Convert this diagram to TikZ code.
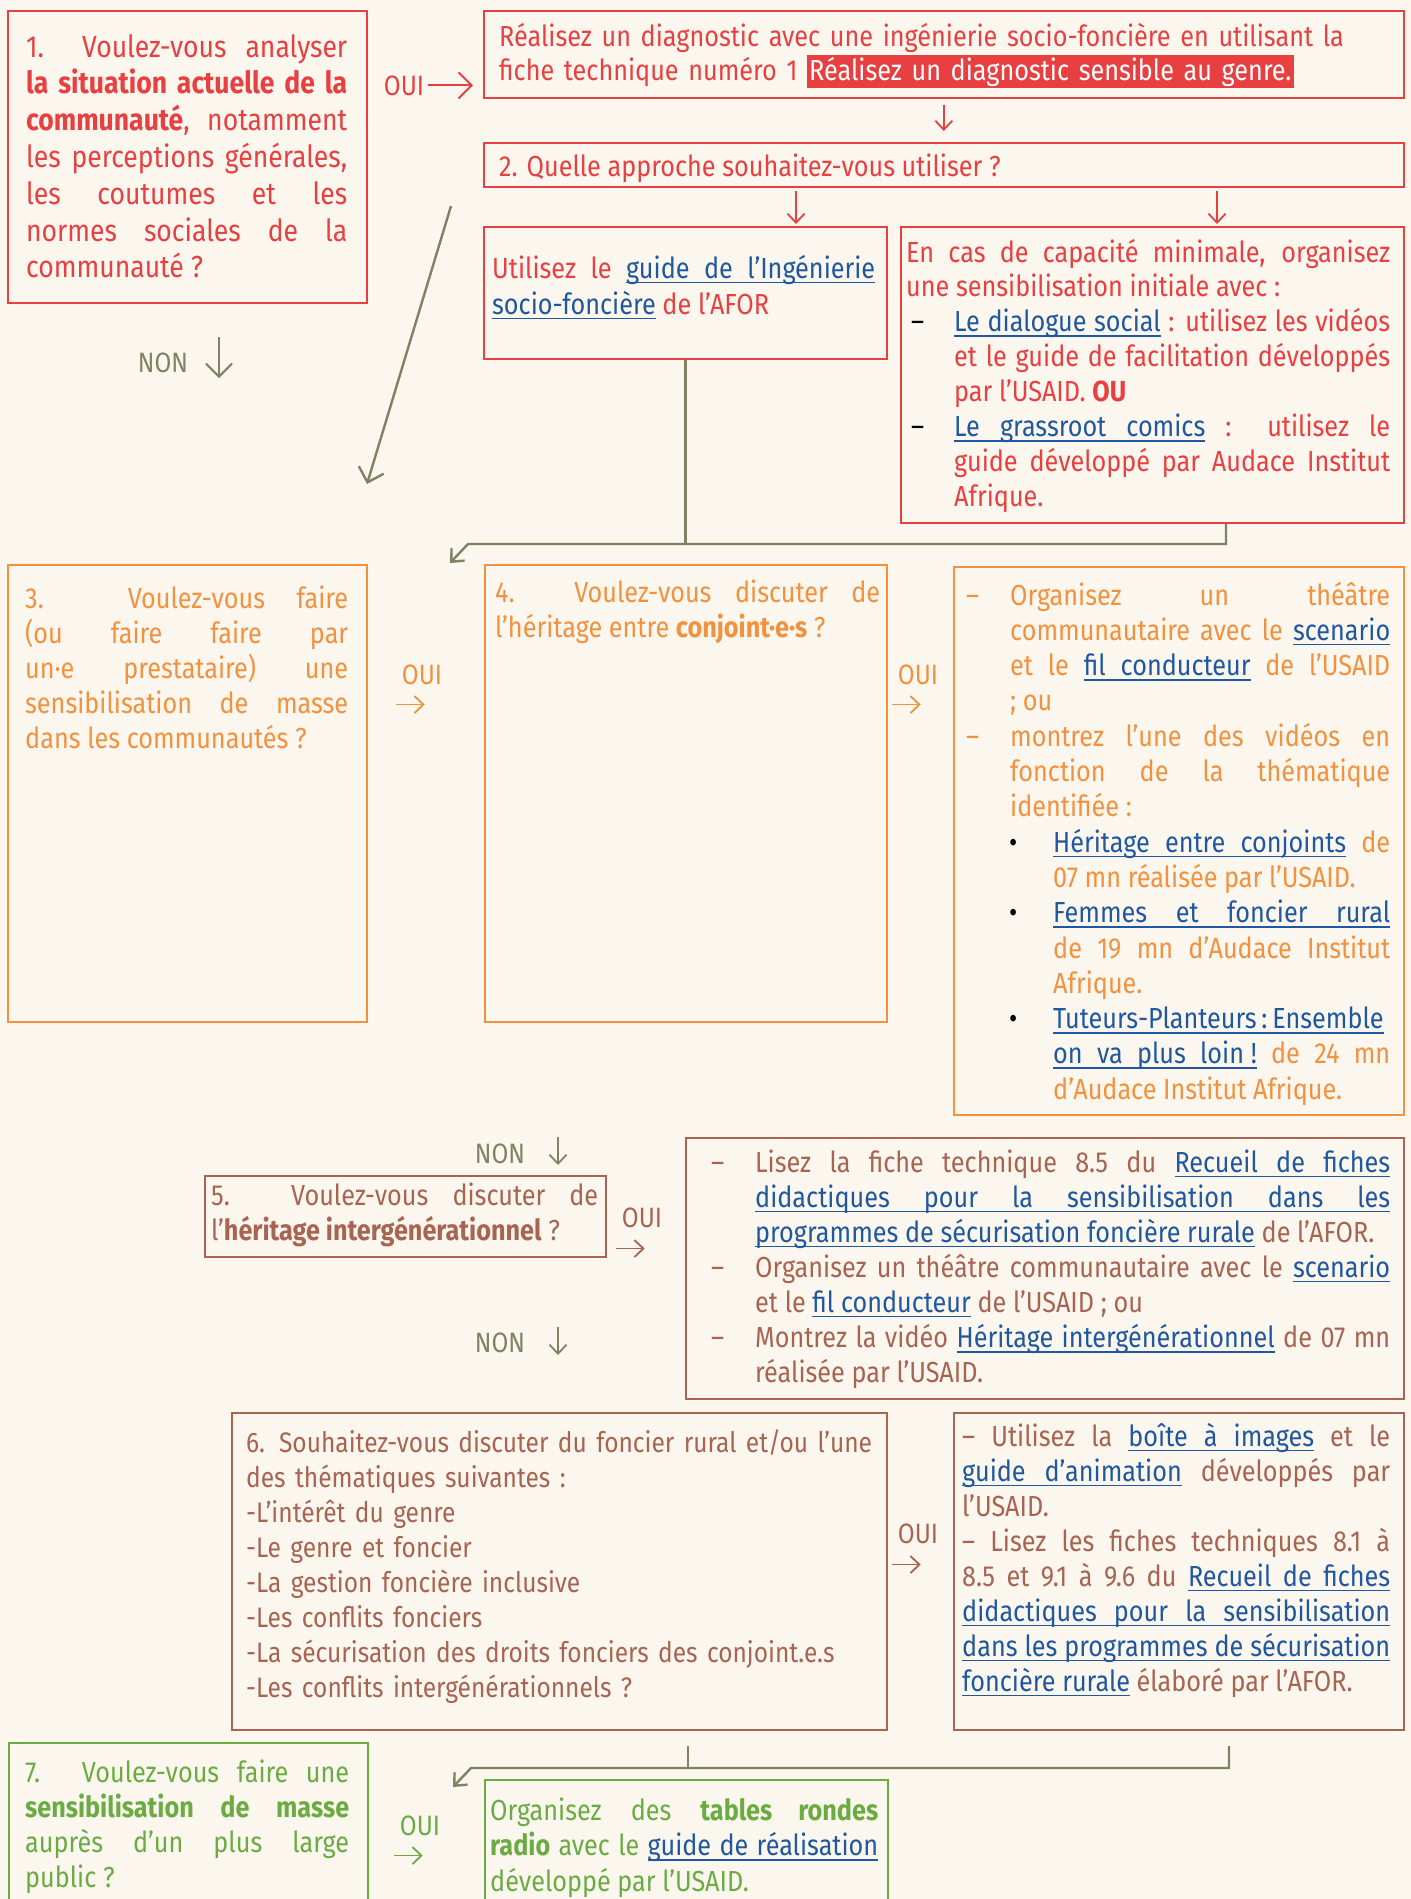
\documentclass[tikz,border=0pt]{standalone}
\usepackage{fontspec}
\setmainfont{Fira Sans}[FakeStretch=0.87]
\usetikzlibrary{arrows.meta}
\definecolor{cbg}{RGB}{251,246,238}
\definecolor{cred}{RGB}{232,64,64}
\definecolor{colive}{RGB}{128,130,100}
\definecolor{corange}{RGB}{242,145,62}
\definecolor{cbrown}{RGB}{168,100,80}
\definecolor{cgreen}{RGB}{106,172,66}
\definecolor{clink}{RGB}{31,88,160}
\newcommand\fs[2]{\fontsize{#1}{#2}\selectfont}
\newcommand\ulw[1]{\setbox0\hbox{#1}\rlap{\rule[-5pt]{\wd0}{1.5pt}}\box0}
\newcommand\lnksp{\leaders\hrule height -3.5pt depth 5pt\hskip\fontdimen2\font plus\fontdimen3\font minus\fontdimen4\font}
\def\lnkend{\lnkend}
\def\lnkw#1 #2\lnkend{\ulw{#1}\ifx\relax#2\relax\else\lnksp\lnkw#2\lnkend\fi}
\newcommand\lnk[1]{{\color{clink}\lnkw#1 \lnkend}}
\newcommand\itm[3]{\noindent\hangindent=#1\hangafter=0\llap{\makebox[#2][l]{#3}}\ignorespaces}
\newcommand\hl[1]{{\setlength\fboxsep{2pt}\colorbox{cred}{\color{white}#1}}}
\begin{document}
\begin{tikzpicture}[x=1pt, y=-1pt,
  box/.style={draw, line width=1.6pt, anchor=north west, inner sep=0pt},
  txt/.style={anchor=base west, inner sep=0pt, align=justify,
    execute at begin node={\tolerance=10000\hbadness=10000\hyphenpenalty=10000\exhyphenpenalty=10000\parindent=0pt}},
  lbl/.style={anchor=base, inner sep=0pt, font=\fs{28}{30}},
  arrw/.style={line width=2pt, -{Straight Barb[length=13pt, width=26pt]}},
  smallarrw/.style={line width=1.8pt, -{Straight Barb[length=9pt, width=17pt]}},
  joinline/.style={line width=2.4pt, colive}]
\path[use as bounding box, fill=cbg] (0,0) rectangle (1411,1899);

\node[box, draw=cred, minimum width=359, minimum height=292] (b1) at (7,10) {};
\node[box, draw=cred, minimum width=920, minimum height=87] (bdiag) at (483,10) {};
\node[box, draw=cred, minimum width=920, minimum height=44] (b2) at (483,142) {};
\node[box, draw=cred, minimum width=403, minimum height=132] (butil) at (483,226) {};
\node[box, draw=cred, minimum width=503, minimum height=296] (bcas) at (900,226) {};
\node[box, draw=corange, minimum width=359, minimum height=457] (b3) at (7,564) {};
\node[box, draw=corange, minimum width=402, minimum height=457] (b4) at (484,564) {};
\node[box, draw=corange, minimum width=450, minimum height=548] (bth) at (953,566) {};
\node[box, draw=cbrown, minimum width=401, minimum height=81] (b5) at (204,1175) {};
\node[box, draw=cbrown, minimum width=718, minimum height=261] (bre) at (685,1137) {};
\node[box, draw=cbrown, minimum width=655, minimum height=317] (b6) at (231,1412) {};
\node[box, draw=cbrown, minimum width=450, minimum height=317] (bbo) at (953,1412) {};
\node[box, draw=cgreen, minimum width=359, minimum height=180] (b7) at (8,1742) {};
\node[box, draw=cgreen, minimum width=403, minimum height=140] (bra) at (484,1779) {};

\node[txt, text=cred, text width=321, font=\fs{30.5}{36.8}] (t1) at (26,57) {1.~~Voulez-vous analyser\linebreak
  \textbf{la situation actuelle de la}\linebreak
  \textbf{communauté}, notamment\linebreak
  les perceptions générales,\linebreak
  les coutumes et les\linebreak
  normes sociales de la\linebreak
  communauté~?};
\node[txt, text=cred, text width=900, align=left, font=\fs{29}{34}] (tdiag) at (499,46) {Réalisez un diagnostic avec une ingénierie socio-foncière en utilisant la\\
  fiche technique numéro 1 \hl{Réalisez un diagnostic sensible au genre.}};
\node[txt, text=cred, align=left, font=\fs{29}{34}] (t2) at (499,176) {2. Quelle approche souhaitez-vous utiliser~?};
\node[txt, text=cred, text width=383, font=\fs{29}{36}] (tutil) at (492,278) {Utilisez le \lnk{guide de l’Ingénierie}\linebreak
  \lnk{socio-foncière} de l’AFOR};
\node[txt, text=cred, text width=484, font=\fs{29}{34.9}] (tcas) at (906,262) {En cas de capacité minimale, organisez\linebreak
  une sensibilisation initiale avec~:\par
  \itm{48pt}{43pt}{\color{black}–}\lnk{Le dialogue social}~: utilisez les vidéos\linebreak
  et le guide de facilitation développés\linebreak
  par l’USAID. \textbf{OU}\par
  \itm{48pt}{43pt}{\color{black}–}\lnk{Le grassroot comics}~: utilisez le\linebreak
  guide développé par Audace Institut\linebreak
  Afrique.\par};

\node[txt, text=corange, text width=323, font=\fs{29}{35}] (t3) at (25,608) {3. Voulez-vous faire\linebreak
  (ou faire faire par\linebreak
  un·e prestataire) une\linebreak
  sensibilisation de masse\linebreak
  dans les communautés~?};
\node[txt, text=corange, text width=385, font=\fs{29}{35}] (t4) at (495,602) {4. Voulez-vous discuter de\linebreak
  l’héritage entre \textbf{conjoint·e·s}~?};
\node[txt, text=corange, text width=424, font=\fs{29}{35.3}] (tth) at (966,605) {\itm{44pt}{44pt}{–}Organisez un théâtre\linebreak
  communautaire avec le \lnk{scenario}\linebreak
  et le \lnk{fil conducteur} de l’USAID\linebreak
  ; ou\par
  \itm{44pt}{44pt}{–}montrez l’une des vidéos en\linebreak
  fonction de la thématique\linebreak
  identifiée :\par
  \itm{87pt}{44pt}{\color{black}•}\lnk{Héritage entre conjoints} de\linebreak
  07 mn réalisée par l’USAID.\par
  \itm{87pt}{44pt}{\color{black}•}\lnk{Femmes et foncier rural}\linebreak
  de 19 mn d’Audace Institut\linebreak
  Afrique.\par
  \itm{87pt}{44pt}{\color{black}•}\lnk{Tuteurs-Planteurs\,:\,Ensemble}\linebreak
  \lnk{on va plus loin~!} de 24 mn\linebreak
  d’Audace Institut Afrique.\par};

\node[txt, text=cbrown, text width=387, font=\fs{29}{35}] (t5) at (211,1205) {5. Voulez-vous discuter de\linebreak
  l’\textbf{héritage intergénérationnel}~?};
\node[txt, text=cbrown, text width=679, font=\fs{29}{35.1}] (tre) at (711,1172) {\itm{44pt}{44pt}{–}Lisez la fiche technique 8.5 du \lnk{Recueil de fiches}\linebreak
  \lnk{didactiques pour la sensibilisation dans les}\linebreak
  \lnk{programmes de sécurisation foncière rurale} de l’AFOR.\par
  \itm{44pt}{44pt}{–}Organisez un théâtre communautaire avec le \lnk{scenario}\linebreak
  et le \lnk{fil conducteur} de l’USAID ; ou\par
  \itm{44pt}{44pt}{–}Montrez la vidéo \lnk{Héritage intergénérationnel} de 07 mn\linebreak
  réalisée par l’USAID.\par};
\node[txt, text=cbrown, text width=720, align=left, font=\fs{28.2}{35}] (t6) at (246,1452) {6. Souhaitez-vous discuter du foncier rural et/ou l’une\\
  des thématiques suivantes :\\
  -L’intérêt du genre\\
  -Le genre et foncier\\
  -La gestion foncière inclusive\\
  -Les conflits fonciers\\
  -La sécurisation des droits fonciers des conjoint.e.s\\
  -Les conflits intergénérationnels~?};
\node[txt, text=cbrown, text width=428, font=\fs{29}{35}] (tbo) at (962,1446) {– Utilisez la \lnk{boîte à images} et le\linebreak
  \lnk{guide d’animation} développés par\linebreak
  l’USAID.\par
  – Lisez les fiches techniques 8.1 à\linebreak
  8.5 et 9.1 à 9.6 du \lnk{Recueil de fiches}\linebreak
  \lnk{didactiques pour la sensibilisation}\linebreak
  \lnk{dans les programmes de sécurisation}\linebreak
  \lnk{foncière rurale} élaboré par l’AFOR.};

\node[txt, text=cgreen, text width=324, font=\fs{29}{35}] (t7) at (25,1782) {7. Voulez-vous faire une\linebreak
  \textbf{sensibilisation de masse}\linebreak
  auprès d’un plus large\linebreak
  public~?};
\node[txt, text=cgreen, text width=388, font=\fs{29}{35.5}] (tra) at (490,1820) {Organisez des \textbf{tables rondes}\linebreak
  \textbf{radio} avec le \lnk{guide de réalisation}\linebreak
  développé par l’USAID.};

\node[lbl, text=cred] (oui1) at (404,95) {OUI};
\node[lbl, text=colive] (non1) at (163,372) {NON};
\node[lbl, text=corange] (oui3) at (422,684) {OUI};
\node[lbl, text=corange] (oui4) at (918,684) {OUI};
\node[lbl, text=colive] (non2) at (500,1163) {NON};
\node[lbl, text=cbrown] (oui5) at (642,1227) {OUI};
\node[lbl, text=colive] (non3) at (500,1352) {NON};
\node[lbl, text=cbrown] (oui6) at (918,1543) {OUI};
\node[lbl, text=cgreen] (oui7) at (420,1835) {OUI};

\draw[arrw, cred] ([xshift=4pt]oui1.east) -- ([xshift=-10pt]oui1.east -| bdiag.west);
\draw[smallarrw, cred] ([yshift=-6pt]bdiag.south) -- ([yshift=11pt]b2.north);
\coordinate (a2l) at (796,191);
\coordinate (a2r) at (1217,191);
\draw[smallarrw, cred, shorten >=2pt] (a2l) -- (a2l |- butil.north);
\draw[smallarrw, cred, shorten >=2pt] (a2r) -- (a2r |- bcas.north);

\coordinate (n1) at (219,337);
\coordinate (n2) at (558,1137);
\coordinate (n3) at (558,1327);
\draw[arrw, colive] (n1) -- ++(0,41);
\draw[smallarrw, colive] (n2) -- ++(0,28);
\draw[smallarrw, colive] (n3) -- ++(0,28);

\coordinate (d1) at (451,206);
\coordinate (d2) at (367,484);
\draw[arrw, colive, line width=2.4pt] (d1) -- (d2);

\coordinate (j2) at (1226,544);
\coordinate (j3) at (468,544);
\coordinate (j4) at (450,563);
\draw[joinline] (butil.south) -- (butil.south |- j2);
\draw[joinline, -{Straight Barb[length=10pt, width=18pt]}] (j2 |- bcas.south) -- (j2) -- (j3) -- (j4);

\coordinate (k1) at (688,1746);
\coordinate (k2) at (1229,1746);
\coordinate (k3) at (471,1768);
\coordinate (k4) at (453,1787);
\draw[joinline] (k1) -- (k1 |- k3);
\draw[joinline, -{Straight Barb[length=10pt, width=18pt]}] (k2) -- (k2 |- k3) -- (k3) -- (k4);

\draw[smallarrw, corange] ([yshift=-20pt]oui3.south west) ++(-6,0) -- ++(29,0);
\draw[smallarrw, corange] ([yshift=-20pt]oui4.south west) ++(-6,0) -- ++(29,0);
\draw[smallarrw, cbrown] ([yshift=-21pt]oui5.south west) ++(-6,0) -- ++(29,0);
\draw[smallarrw, cbrown] ([yshift=-21pt]oui6.south west) ++(-6,0) -- ++(29,0);
\draw[smallarrw, cgreen] ([yshift=-20pt]oui7.south west) ++(-6,0) -- ++(29,0);
\end{tikzpicture}
\end{document}
